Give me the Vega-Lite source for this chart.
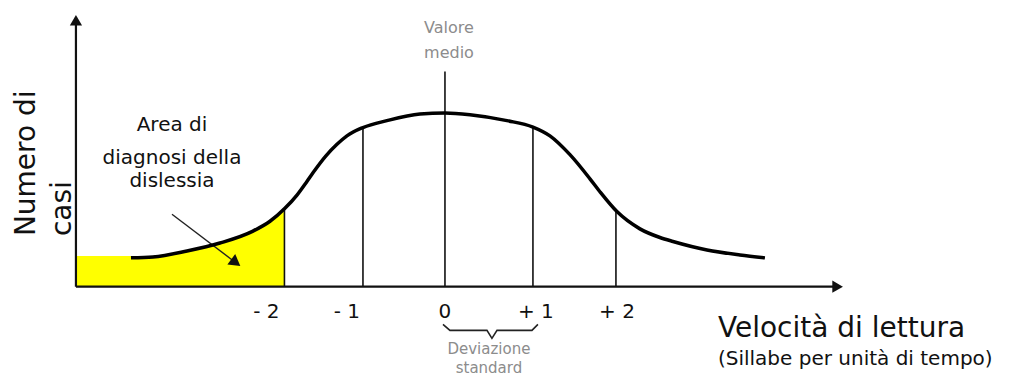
{
  "$schema": "https://vega.github.io/schema/vega-lite/v6.json",
  "width": 1016,
  "height": 376,
  "padding": 0,
  "autosize": {"type": "fit", "contains": "padding"},
  "background": "white",
  "config": {"view": {"stroke": null}, "font": "DejaVu Sans"},
  "datasets": {
    "curve": [
      {"x": -3.783, "y": 0.167}, {"x": -3.518, "y": 0.172}, {"x": -3.108, "y": 0.207},
      {"x": -2.711, "y": 0.253}, {"x": -2.313, "y": 0.322}, {"x": -2.108, "y": 0.379},
      {"x": -1.928, "y": 0.454}, {"x": -1.783, "y": 0.531}, {"x": -1.663, "y": 0.61},
      {"x": -1.59, "y": 0.66}, {"x": -1.434, "y": 0.758}, {"x": -1.301, "y": 0.825},
      {"x": -1.181, "y": 0.874}, {"x": -0.988, "y": 0.922}, {"x": -0.699, "y": 0.962},
      {"x": -0.301, "y": 1.0}, {"x": 0, "y": 1.006}, {"x": 0.301, "y": 0.996},
      {"x": 0.747, "y": 0.962}, {"x": 1.06, "y": 0.925}, {"x": 1.265, "y": 0.874},
      {"x": 1.506, "y": 0.765}, {"x": 1.747, "y": 0.625}, {"x": 1.867, "y": 0.55},
      {"x": 2.072, "y": 0.435}, {"x": 2.349, "y": 0.335}, {"x": 2.59, "y": 0.285},
      {"x": 2.747, "y": 0.262}, {"x": 3.157, "y": 0.213}, {"x": 3.554, "y": 0.184},
      {"x": 3.855, "y": 0.167}
    ],
    "area": [
      {"x": -4.446, "y": 0.178}, {"x": -3.518, "y": 0.178}, {"x": -3.108, "y": 0.207},
      {"x": -2.711, "y": 0.253}, {"x": -2.313, "y": 0.322}, {"x": -2.108, "y": 0.379},
      {"x": -1.934, "y": 0.452}
    ],
    "sd": [
      {"x": -1.934, "top": 0.452}, {"x": -0.988, "top": 0.922}, {"x": 0, "top": 1.247},
      {"x": 1.06, "top": 0.925}, {"x": 2.06, "top": 0.44}
    ],
    "axes": [
      {"x": -4.446, "x2": -4.446, "y": 0, "y2": 1.55},
      {"x": -4.446, "x2": 4.72, "y": 0, "y2": 0}
    ],
    "brace": [
      {"x": -0.024, "y": -0.218}, {"x": 0.06, "y": -0.253}, {"x": 0.506, "y": -0.253},
      {"x": 0.566, "y": -0.299}, {"x": 0.627, "y": -0.253}, {"x": 1.048, "y": -0.253},
      {"x": 1.12, "y": -0.218}
    ],
    "ticks": [
      {"x": -2.151, "y": -0.144, "label": "- 2"},
      {"x": -1.181, "y": -0.144, "label": "- 1"},
      {"x": 0, "y": -0.144, "label": "0"},
      {"x": 1.096, "y": -0.144, "label": "+ 1"},
      {"x": 2.072, "y": -0.144, "label": "+ 2"}
    ]
  },
  "layer": [
    {
      "data": {"name": "area"},
      "mark": {"type": "area", "color": "#ffff00", "opacity": 1},
      "encoding": {
        "x": {"field": "x", "type": "quantitative", "scale": {"domain": [-5.361, 6.88], "nice": false, "zero": false}, "axis": null},
        "y": {"field": "y", "type": "quantitative", "scale": {"domain": [-0.5, 1.661], "nice": false, "zero": false}, "axis": null},
        "y2": {"datum": 0}
      }
    },
    {
      "data": {"name": "sd"},
      "mark": {"type": "rule", "color": "#111111", "strokeWidth": 1.6},
      "encoding": {
        "x": {"field": "x", "type": "quantitative"},
        "y": {"field": "top", "type": "quantitative"},
        "y2": {"datum": 0}
      }
    },
    {
      "data": {"name": "axes"},
      "mark": {"type": "rule", "color": "#111111", "strokeWidth": 2.2},
      "encoding": {
        "x": {"field": "x", "type": "quantitative"},
        "x2": {"field": "x2"},
        "y": {"field": "y", "type": "quantitative"},
        "y2": {"field": "y2"}
      }
    },
    {
      "data": {"values": [{"x": -4.446, "y": 1.544}]},
      "mark": {"type": "point", "shape": "triangle-up", "filled": true, "color": "#111111", "size": 150, "opacity": 1},
      "encoding": {
        "x": {"field": "x", "type": "quantitative"},
        "y": {"field": "y", "type": "quantitative"}
      }
    },
    {
      "data": {"values": [{"x": 4.731, "y": 0}]},
      "mark": {"type": "point", "shape": "triangle-right", "filled": true, "color": "#111111", "size": 150, "opacity": 1},
      "encoding": {
        "x": {"field": "x", "type": "quantitative"},
        "y": {"field": "y", "type": "quantitative"}
      }
    },
    {
      "data": {"values": [{"x": -3.289, "y": 0.42, "x2": -2.52, "y2": 0.139}]},
      "mark": {"type": "rule", "color": "#222222", "strokeWidth": 1.4},
      "encoding": {
        "x": {"field": "x", "type": "quantitative"},
        "x2": {"field": "x2"},
        "y": {"field": "y", "type": "quantitative"},
        "y2": {"field": "y2"}
      }
    },
    {
      "data": {"values": [{"x": -2.52, "y": 0.139}]},
      "mark": {"type": "point", "shape": "triangle-up", "angle": 127, "filled": true, "color": "#111111", "size": 170, "opacity": 1},
      "encoding": {
        "x": {"field": "x", "type": "quantitative"},
        "y": {"field": "y", "type": "quantitative"}
      }
    },
    {
      "data": {"name": "curve"},
      "mark": {"type": "line", "color": "#000000", "strokeWidth": 3.5, "interpolate": "monotone"},
      "encoding": {
        "x": {"field": "x", "type": "quantitative"},
        "y": {"field": "y", "type": "quantitative"}
      }
    },
    {
      "data": {"name": "brace"},
      "mark": {"type": "line", "color": "#222222", "strokeWidth": 1.6},
      "encoding": {
        "x": {"field": "x", "type": "quantitative"},
        "y": {"field": "y", "type": "quantitative"}
      }
    },
    {
      "data": {"name": "ticks"},
      "mark": {"type": "text", "fontSize": 20, "color": "#111111", "align": "center", "baseline": "middle"},
      "encoding": {
        "x": {"field": "x", "type": "quantitative"},
        "y": {"field": "y", "type": "quantitative"},
        "text": {"field": "label"}
      }
    },
    {
      "data": {"values": [
        {"x": -3.289, "y": 0.902, "t": "Area di"},
        {"x": -3.289, "y": 0.713, "t": "diagnosi della"},
        {"x": -3.289, "y": 0.58, "t": "dislessia"}
      ]},
      "mark": {"type": "text", "fontSize": 20, "color": "#111111", "align": "center", "baseline": "alphabetic"},
      "encoding": {
        "x": {"field": "x", "type": "quantitative"},
        "y": {"field": "y", "type": "quantitative"},
        "text": {"field": "t"}
      }
    },
    {
      "data": {"values": [
        {"x": -4.94, "y": 0.293, "t": "Numero di"},
        {"x": -4.506, "y": 0.293, "t": "casi"}
      ]},
      "mark": {"type": "text", "fontSize": 28, "color": "#111111", "align": "left", "baseline": "alphabetic", "angle": 270},
      "encoding": {
        "x": {"field": "x", "type": "quantitative"},
        "y": {"field": "y", "type": "quantitative"},
        "text": {"field": "t"}
      }
    },
    {
      "data": {"values": [{"x": 3.289, "y": -0.293, "t": "Velocità di lettura"}]},
      "mark": {"type": "text", "fontSize": 28, "color": "#111111", "align": "left", "baseline": "alphabetic"},
      "encoding": {
        "x": {"field": "x", "type": "quantitative"},
        "y": {"field": "y", "type": "quantitative"},
        "text": {"field": "t"}
      }
    },
    {
      "data": {"values": [{"x": 3.289, "y": -0.454, "t": "(Sillabe per unità di tempo)"}]},
      "mark": {"type": "text", "fontSize": 20, "color": "#111111", "align": "left", "baseline": "alphabetic"},
      "encoding": {
        "x": {"field": "x", "type": "quantitative"},
        "y": {"field": "y", "type": "quantitative"},
        "text": {"field": "t"}
      }
    },
    {
      "data": {"values": [
        {"x": 0.048, "y": 1.5, "t": "Valore"},
        {"x": 0.048, "y": 1.356, "t": "medio"}
      ]},
      "mark": {"type": "text", "fontSize": 16, "color": "#8c8c8c", "align": "center", "baseline": "middle"},
      "encoding": {
        "x": {"field": "x", "type": "quantitative"},
        "y": {"field": "y", "type": "quantitative"},
        "text": {"field": "t"}
      }
    },
    {
      "data": {"values": [
        {"x": 0.53, "y": -0.362, "t": "Deviazione"},
        {"x": 0.53, "y": -0.471, "t": "standard"}
      ]},
      "mark": {"type": "text", "fontSize": 15, "color": "#8c8c8c", "align": "center", "baseline": "middle"},
      "encoding": {
        "x": {"field": "x", "type": "quantitative"},
        "y": {"field": "y", "type": "quantitative"},
        "text": {"field": "t"}
      }
    }
  ]
}
